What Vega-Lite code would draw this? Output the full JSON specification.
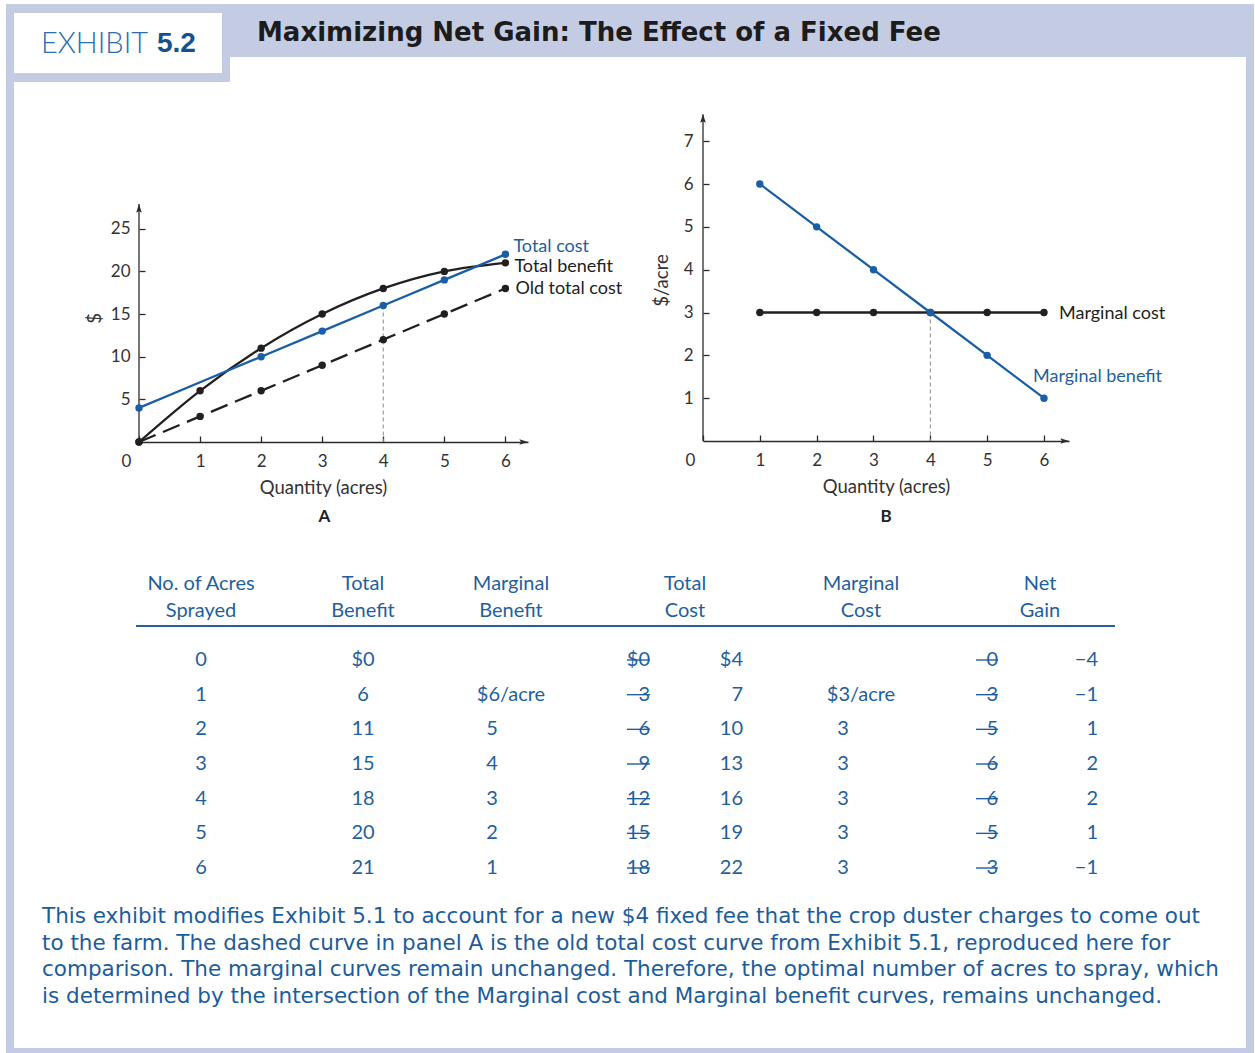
{
"$schema": "https://vega.github.io/schema/vega-lite/v6.json",
"background": "white",
"padding": {"left": 6, "top": 4, "right": 1, "bottom": 0},
"config": {
  "view": {"stroke": null},
  "font": "Lato",
  "axis": {"grid": false, "domainColor": "#2b2b2b", "domainWidth": 1.3, "tickColor": "#2b2b2b", "tickWidth": 1.3, "labelColor": "#333333", "labelFont": "Lato", "labelFontSize": 17, "titleFont": "Lato", "titleFontSize": 18.5, "titleFontWeight": "normal", "titleColor": "#333333", "labelOverlap": false, "labelFlush": false, "labelBound": false},
  "title": {"font": "Lato"}
},
"datasets": {
  "econ": [
    {"q": 0, "tb": 0, "mb": null, "tc": 4, "mc": null, "oldtc": 0, "ng": -4, "oldng": 0},
    {"q": 1, "tb": 6, "mb": 6, "tc": 7, "mc": 3, "oldtc": 3, "ng": -1, "oldng": 3},
    {"q": 2, "tb": 11, "mb": 5, "tc": 10, "mc": 3, "oldtc": 6, "ng": 1, "oldng": 5},
    {"q": 3, "tb": 15, "mb": 4, "tc": 13, "mc": 3, "oldtc": 9, "ng": 2, "oldng": 6},
    {"q": 4, "tb": 18, "mb": 3, "tc": 16, "mc": 3, "oldtc": 12, "ng": 2, "oldng": 6},
    {"q": 5, "tb": 20, "mb": 2, "tc": 19, "mc": 3, "oldtc": 15, "ng": 1, "oldng": 5},
    {"q": 6, "tb": 21, "mb": 1, "tc": 22, "mc": 3, "oldtc": 18, "ng": -1, "oldng": 3}
  ],
  "table": [
    {"q": 0, "acres": "0", "tb": "$0", "mb": "", "oldtc": "$0", "tc": "$4", "mc": "", "oldng": "0", "ng": "−4"},
    {"q": 1, "acres": "1", "tb": "6", "mb": "$6/acre", "oldtc": "3", "tc": "7", "mc": "$3/acre", "oldng": "3", "ng": "−1"},
    {"q": 2, "acres": "2", "tb": "11", "mb": "5", "oldtc": "6", "tc": "10", "mc": "3", "oldng": "5", "ng": "1"},
    {"q": 3, "acres": "3", "tb": "15", "mb": "4", "oldtc": "9", "tc": "13", "mc": "3", "oldng": "6", "ng": "2"},
    {"q": 4, "acres": "4", "tb": "18", "mb": "3", "oldtc": "12", "tc": "16", "mc": "3", "oldng": "6", "ng": "2"},
    {"q": 5, "acres": "5", "tb": "20", "mb": "2", "oldtc": "15", "tc": "19", "mc": "3", "oldng": "5", "ng": "1"},
    {"q": 6, "acres": "6", "tb": "21", "mb": "1", "oldtc": "18", "tc": "22", "mc": "3", "oldng": "3", "ng": "−1"}
  ]
},
"spacing": 0,
"vconcat": [
  {"spacing": 0, "hconcat": [
    {"spacing": 0, "vconcat": [
      {"width": 224, "height": 9, "data": {"values": []}, "mark": "point", "encoding": {}, "view": {"fill": "#c4cce4"}},
      {"spacing": 0, "bounds": "flush", "hconcat": [
        {"width": 8, "height": 60, "data": {"values": []}, "mark": "point", "encoding": {}, "view": {"fill": "#c4cce4"}},
        {"width": 208, "height": 60, "data": {"values": [{}]}, "view": {"fill": "white"},
         "layer": [
           {"mark": {"type": "text", "text": "EXHIBIT", "align": "right", "baseline": "middle", "dx": 30, "dy": 1, "font": "Lato", "fontWeight": 300, "fontSize": 29, "color": "#2d6cb0"}, "encoding": {}},
           {"mark": {"type": "text", "text": "5.2", "align": "left", "baseline": "middle", "dx": 39, "dy": 1, "font": "Liberation Sans", "fontWeight": "bold", "fontSize": 28, "color": "#17508f"}, "encoding": {}}
         ]},
        {"width": 8, "height": 60, "data": {"values": []}, "mark": "point", "encoding": {}, "view": {"fill": "#c4cce4"}}
      ]},
      {"width": 224, "height": 9, "data": {"values": []}, "mark": "point", "encoding": {}, "view": {"fill": "#c4cce4"}}
    ]},
    {"spacing": 0, "vconcat": [
      {"width": 1024, "height": 53, "data": {"values": [{}]}, "view": {"fill": "#c4cce4"}, "encoding": {},
       "mark": {"type": "text", "text": "Maximizing Net Gain: The Effect of a Fixed Fee", "align": "left", "baseline": "middle", "dx": -485, "dy": 2, "font": "DejaVu Sans", "fontWeight": "bold", "fontSize": 26, "color": "#1c1c1c"}},
      {"spacing": 0, "bounds": "flush", "hconcat": [
        {"width": 1016, "height": 25, "data": {"values": []}, "mark": "point", "encoding": {}},
        {"width": 8, "height": 25, "data": {"values": []}, "mark": "point", "encoding": {}, "view": {"fill": "#c4cce4"}}
      ]}
    ]}
  ]},
  {"spacing": 0, "hconcat": [
    {"width": 8, "height": 966, "data": {"values": []}, "mark": "point", "encoding": {}, "view": {"fill": "#c4cce4"}},
    {"spacing": 0, "vconcat": [
      {"spacing": 0, "bounds": "flush", "hconcat": [
        {"width": 125, "height": 486, "data": {"values": []}, "mark": "point", "encoding": {}},
        {"width": 389, "height": 360, "data": {"name": "econ"},
         "title": {"text": "A", "orient": "bottom", "fontSize": 17, "fontWeight": "bold", "color": "#222222", "offset": 12, "dx": -9},
         "encoding": {"x": {"field": "q", "type": "quantitative", "scale": {"domain": [0, 6.37], "nice": false},
            "axis": {"values": [0, 1, 2, 3, 4, 5, 6], "title": "Quantity (acres)", "titleX": 184, "tickSize": -6, "labelPadding": 17, "titlePadding": 9,
                     "labelOffset": {"condition": {"test": "datum.value === 0", "value": -13}, "value": 0}}}},
         "layer": [
           {"mark": {"type": "line", "interpolate": "monotone", "color": "#231f20", "strokeWidth": 2.3},
            "encoding": {"y": {"field": "tb", "type": "quantitative", "scale": {"domain": [0, 42.2], "nice": false},
               "axis": {"values": [5, 10, 15, 20, 25], "title": "$", "titleY": 236, "domain": false, "tickSize": -6, "labelPadding": 15, "titlePadding": 6}}}},
           {"transform": [{"filter": "datum.q === 0"}], "mark": {"type": "rule", "color": "#2b2b2b", "strokeWidth": 1.3},
            "encoding": {"x": {"datum": 0, "type": "quantitative"}, "y": {"datum": 0, "type": "quantitative", "scale": {"domain": [0, 42.2], "nice": false}}, "y2": {"datum": 27.9}}},
           {"transform": [{"filter": "datum.q === 4"}], "mark": {"type": "rule", "color": "#8c8c8c", "strokeWidth": 1, "strokeDash": [4, 3]},
            "encoding": {"y": {"field": "tc", "type": "quantitative", "scale": {"domain": [0, 42.2], "nice": false}}, "y2": {"datum": 0}}},
           {"mark": {"type": "line", "color": "#231f20", "strokeWidth": 2.3, "strokeDash": [18, 8]},
            "encoding": {"y": {"field": "oldtc", "type": "quantitative", "scale": {"domain": [0, 42.2], "nice": false}}}},
           {"mark": {"type": "point", "filled": true, "opacity": 1, "size": 55, "color": "#231f20"},
            "encoding": {"y": {"field": "oldtc", "type": "quantitative", "scale": {"domain": [0, 42.2], "nice": false}}}},
           {"mark": {"type": "point", "filled": true, "opacity": 1, "size": 55, "color": "#231f20"},
            "encoding": {"y": {"field": "tb", "type": "quantitative", "scale": {"domain": [0, 42.2], "nice": false}}}},
           {"mark": {"type": "line", "color": "#1c5ea5", "strokeWidth": 2.3},
            "encoding": {"y": {"field": "tc", "type": "quantitative", "scale": {"domain": [0, 42.2], "nice": false}}}},
           {"transform": [{"filter": "datum.q !== 1"}], "mark": {"type": "point", "filled": true, "opacity": 1, "size": 55, "color": "#1c5ea5"},
            "encoding": {"y": {"field": "tc", "type": "quantitative", "scale": {"domain": [0, 42.2], "nice": false}}}},
           {"transform": [{"filter": "datum.q === 6"}], "mark": {"type": "text", "text": "Total cost", "align": "left", "baseline": "middle", "dx": 8, "dy": -7, "fontSize": 18, "color": "#1f5f9e"},
            "encoding": {"y": {"field": "tc", "type": "quantitative", "scale": {"domain": [0, 42.2], "nice": false}}}},
           {"transform": [{"filter": "datum.q === 6"}], "mark": {"type": "text", "text": "Total benefit", "align": "left", "baseline": "middle", "dx": 9, "dy": 4, "fontSize": 18, "color": "#222222"},
            "encoding": {"y": {"field": "tb", "type": "quantitative", "scale": {"domain": [0, 42.2], "nice": false}}}},
           {"transform": [{"filter": "datum.q === 6"}], "mark": {"type": "text", "text": "Old total cost", "align": "left", "baseline": "middle", "dx": 10, "dy": 1, "fontSize": 18, "color": "#222222"},
            "encoding": {"y": {"field": "oldtc", "type": "quantitative", "scale": {"domain": [0, 42.2], "nice": false}}}},
           {"transform": [{"filter": "datum.q === 0"}], "mark": {"type": "point", "shape": "M0,0L0.33,1L0,0.8L-0.33,1Z", "size": 300, "filled": true, "opacity": 1, "color": "#2b2b2b", "strokeWidth": 0},
            "encoding": {"x": {"datum": 0, "type": "quantitative"}, "y": {"datum": 27.9, "type": "quantitative", "scale": {"domain": [0, 42.2], "nice": false}}}},
           {"transform": [{"filter": "datum.q === 0"}], "mark": {"type": "point", "shape": "M0,0L-1,-0.33L-0.8,0L-1,0.33Z", "size": 300, "filled": true, "opacity": 1, "color": "#2b2b2b", "strokeWidth": 0},
            "encoding": {"x": {"datum": 6.37, "type": "quantitative"}, "y": {"datum": 0, "type": "quantitative", "scale": {"domain": [0, 42.2], "nice": false}}}}
         ]},
        {"width": 175, "height": 486, "data": {"values": []}, "mark": "point", "encoding": {}},
        {"width": 366, "height": 359, "data": {"name": "econ"},
         "transform": [{"filter": "isValid(datum.mb)"}],
         "title": {"text": "B", "orient": "bottom", "fontSize": 17, "fontWeight": "bold", "color": "#222222", "offset": 13},
         "encoding": {"x": {"field": "q", "type": "quantitative", "scale": {"domain": [0, 6.44], "nice": false},
            "axis": {"values": [0, 1, 2, 3, 4, 5, 6], "title": "Quantity (acres)", "tickSize": -6, "labelPadding": 17, "titlePadding": 9,
                     "labelOffset": {"condition": {"test": "datum.value === 0", "value": -13}, "value": 0}}}},
         "layer": [
           {"mark": {"type": "line", "color": "#231f20", "strokeWidth": 2.3},
            "encoding": {"y": {"field": "mc", "type": "quantitative", "scale": {"domain": [0, 8.382], "nice": false},
               "axis": {"values": [1, 2, 3, 4, 5, 6, 7], "title": "$/acre", "titleY": 198, "domain": false, "tickSize": -6, "labelPadding": 16, "titlePadding": 12}}}},
           {"transform": [{"filter": "datum.q === 1"}], "mark": {"type": "rule", "color": "#2b2b2b", "strokeWidth": 1.3},
            "encoding": {"x": {"datum": 0, "type": "quantitative"}, "y": {"datum": 0, "type": "quantitative", "scale": {"domain": [0, 8.382], "nice": false}}, "y2": {"datum": 7.63}}},
           {"transform": [{"filter": "datum.q === 4"}], "mark": {"type": "rule", "color": "#8c8c8c", "strokeWidth": 1, "strokeDash": [4, 3]},
            "encoding": {"y": {"field": "mc", "type": "quantitative", "scale": {"domain": [0, 8.382], "nice": false}}, "y2": {"datum": 0}}},
           {"mark": {"type": "point", "filled": true, "opacity": 1, "size": 55, "color": "#231f20"},
            "encoding": {"y": {"field": "mc", "type": "quantitative", "scale": {"domain": [0, 8.382], "nice": false}}}},
           {"mark": {"type": "line", "color": "#1c5ea5", "strokeWidth": 2.3},
            "encoding": {"y": {"field": "mb", "type": "quantitative", "scale": {"domain": [0, 8.382], "nice": false}}}},
           {"mark": {"type": "point", "filled": true, "opacity": 1, "size": 55, "color": "#1c5ea5"},
            "encoding": {"y": {"field": "mb", "type": "quantitative", "scale": {"domain": [0, 8.382], "nice": false}}}},
           {"transform": [{"filter": "datum.q === 6"}], "mark": {"type": "text", "text": "Marginal cost", "align": "left", "baseline": "middle", "dx": 15, "dy": 1, "fontSize": 18, "color": "#222222"},
            "encoding": {"y": {"field": "mc", "type": "quantitative", "scale": {"domain": [0, 8.382], "nice": false}}}},
           {"transform": [{"filter": "datum.q === 6"}], "mark": {"type": "text", "text": "Marginal benefit", "align": "left", "baseline": "middle", "dx": -11, "dy": -21, "fontSize": 18, "color": "#1f5f9e"},
            "encoding": {"y": {"field": "mb", "type": "quantitative", "scale": {"domain": [0, 8.382], "nice": false}}}},
           {"transform": [{"filter": "datum.q === 1"}], "mark": {"type": "point", "shape": "M0,0L0.33,1L0,0.8L-0.33,1Z", "size": 300, "filled": true, "opacity": 1, "color": "#2b2b2b", "strokeWidth": 0},
            "encoding": {"x": {"datum": 0, "type": "quantitative"}, "y": {"datum": 7.63, "type": "quantitative", "scale": {"domain": [0, 8.382], "nice": false}}}},
           {"transform": [{"filter": "datum.q === 1"}], "mark": {"type": "point", "shape": "M0,0L-1,-0.33L-0.8,0L-1,0.33Z", "size": 300, "filled": true, "opacity": 1, "color": "#2b2b2b", "strokeWidth": 0},
            "encoding": {"x": {"datum": 6.44, "type": "quantitative"}, "y": {"datum": 0, "type": "quantitative", "scale": {"domain": [0, 8.382], "nice": false}}}}
         ]},
        {"width": 177, "height": 486, "data": {"values": []}, "mark": "point", "encoding": {}}
      ]},
      {"spacing": 0, "bounds": "flush", "hconcat": [
        {"width": 122, "height": 57, "data": {"values": []}, "mark": "point", "encoding": {}},
        {"width": 130, "height": 57, "data": {"values": [{}]}, "encoding": {}, "mark": {"type": "text", "text": ["No. of Acres", "Sprayed"], "lineHeight": 27, "baseline": "middle", "dy": -12.5, "fontSize": 20, "color": "#1f5f9e"}},
        {"width": 194, "height": 57, "data": {"values": [{}]}, "encoding": {}, "mark": {"type": "text", "text": ["Total", "Benefit"], "lineHeight": 27, "baseline": "middle", "dy": -12.5, "fontSize": 20, "color": "#1f5f9e"}},
        {"width": 102, "height": 57, "data": {"values": [{}]}, "encoding": {}, "mark": {"type": "text", "text": ["Marginal", "Benefit"], "lineHeight": 27, "baseline": "middle", "dy": -12.5, "fontSize": 20, "color": "#1f5f9e"}},
        {"width": 246, "height": 57, "data": {"values": [{}]}, "encoding": {}, "mark": {"type": "text", "text": ["Total", "Cost"], "lineHeight": 27, "baseline": "middle", "dy": -12.5, "fontSize": 20, "color": "#1f5f9e"}},
        {"width": 106, "height": 57, "data": {"values": [{}]}, "encoding": {}, "mark": {"type": "text", "text": ["Marginal", "Cost"], "lineHeight": 27, "baseline": "middle", "dy": -12.5, "fontSize": 20, "color": "#1f5f9e"}},
        {"width": 51, "height": 57, "data": {"values": []}, "mark": "point", "encoding": {}},
        {"width": 150, "height": 57, "data": {"values": [{}]}, "encoding": {}, "mark": {"type": "text", "text": ["Net", "Gain"], "lineHeight": 27, "baseline": "middle", "dy": -12.5, "fontSize": 20, "color": "#1f5f9e"}},
        {"width": 131, "height": 57, "data": {"values": []}, "mark": "point", "encoding": {}}
      ]},
      {"spacing": 0, "bounds": "flush", "hconcat": [
        {"width": 122, "height": 2, "data": {"values": []}, "mark": "point", "encoding": {}},
        {"width": 979, "height": 2, "data": {"values": []}, "mark": "point", "encoding": {}, "view": {"fill": "#2a5f9a"}},
        {"width": 131, "height": 2, "data": {"values": []}, "mark": "point", "encoding": {}}
      ]},
      {"spacing": 0, "bounds": "flush", "hconcat": [
        {"width": 122, "height": 263, "data": {"values": []}, "mark": "point", "encoding": {}},
        {"width": 130, "height": 263, "data": {"name": "table"}, "mark": {"type": "text", "baseline": "middle", "dy": 1, "fontSize": 20, "color": "#1f5f9e"},
         "encoding": {"y": {"field": "q", "type": "quantitative", "scale": {"domain": [-0.923, 6.663], "reverse": true, "nice": false, "zero": false}, "axis": null}, "text": {"field": "acres", "type": "nominal"}}},
        {"width": 194, "height": 263, "data": {"name": "table"}, "mark": {"type": "text", "baseline": "middle", "dy": 1, "fontSize": 20, "color": "#1f5f9e"},
         "encoding": {"y": {"field": "q", "type": "quantitative", "scale": {"domain": [-0.923, 6.663], "reverse": true, "nice": false, "zero": false}, "axis": null}, "text": {"field": "tb", "type": "nominal"}}},
        {"width": 64, "height": 263, "data": {"name": "table"},
         "layer": [
           {"transform": [{"filter": "datum.q !== 1"}], "mark": {"type": "text", "baseline": "middle", "dy": 1, "fontSize": 20, "color": "#1f5f9e"},
            "encoding": {"y": {"field": "q", "type": "quantitative", "scale": {"domain": [-0.923, 6.663], "reverse": true, "nice": false, "zero": false}, "axis": null}, "text": {"field": "mb", "type": "nominal"}}},
           {"transform": [{"filter": "datum.q === 1"}], "mark": {"type": "text", "baseline": "middle", "dy": 1, "dx": 19, "fontSize": 20, "color": "#1f5f9e"},
            "encoding": {"y": {"field": "q", "type": "quantitative", "scale": {"domain": [-0.923, 6.663], "reverse": true, "nice": false, "zero": false}, "axis": null}, "text": {"field": "mb", "type": "nominal"}}}
         ]},
        {"width": 126, "height": 263, "data": {"name": "table"},
         "layer": [
           {"mark": {"type": "text", "align": "right", "baseline": "middle", "dy": 1, "fontSize": 20, "color": "#1f5f9e"},
            "encoding": {"x": {"value": "width"}, "y": {"field": "q", "type": "quantitative", "scale": {"domain": [-0.923, 6.663], "reverse": true, "nice": false, "zero": false}, "axis": null}, "text": {"field": "oldtc", "type": "nominal"}}},
           {"mark": {"type": "tick", "orient": "horizontal", "size": 23, "thickness": 1.4, "xOffset": -11.5, "yOffset": 1, "color": "#1f5f9e", "opacity": 1},
            "encoding": {"x": {"value": "width"}, "y": {"field": "q", "type": "quantitative", "scale": {"domain": [-0.923, 6.663], "reverse": true, "nice": false, "zero": false}, "axis": null}}}
         ]},
        {"width": 93, "height": 263, "data": {"name": "table"}, "mark": {"type": "text", "align": "right", "baseline": "middle", "dy": 1, "fontSize": 20, "color": "#1f5f9e"},
         "encoding": {"x": {"value": "width"}, "y": {"field": "q", "type": "quantitative", "scale": {"domain": [-0.923, 6.663], "reverse": true, "nice": false, "zero": false}, "axis": null}, "text": {"field": "tc", "type": "nominal"}}},
        {"width": 200, "height": 263, "data": {"name": "table"},
         "layer": [
           {"transform": [{"filter": "datum.q !== 1"}], "mark": {"type": "text", "baseline": "middle", "dy": 1, "fontSize": 20, "color": "#1f5f9e"},
            "encoding": {"y": {"field": "q", "type": "quantitative", "scale": {"domain": [-0.923, 6.663], "reverse": true, "nice": false, "zero": false}, "axis": null}, "text": {"field": "mc", "type": "nominal"}}},
           {"transform": [{"filter": "datum.q === 1"}], "mark": {"type": "text", "baseline": "middle", "dy": 1, "dx": 18, "fontSize": 20, "color": "#1f5f9e"},
            "encoding": {"y": {"field": "q", "type": "quantitative", "scale": {"domain": [-0.923, 6.663], "reverse": true, "nice": false, "zero": false}, "axis": null}, "text": {"field": "mc", "type": "nominal"}}}
         ]},
        {"width": 55, "height": 263, "data": {"name": "table"},
         "layer": [
           {"mark": {"type": "text", "align": "right", "baseline": "middle", "dy": 1, "fontSize": 20, "color": "#1f5f9e"},
            "encoding": {"x": {"value": "width"}, "y": {"field": "q", "type": "quantitative", "scale": {"domain": [-0.923, 6.663], "reverse": true, "nice": false, "zero": false}, "axis": null}, "text": {"field": "oldng", "type": "nominal"}}},
           {"mark": {"type": "tick", "orient": "horizontal", "size": 22, "thickness": 1.4, "xOffset": -11, "yOffset": 1, "color": "#1f5f9e", "opacity": 1},
            "encoding": {"x": {"value": "width"}, "y": {"field": "q", "type": "quantitative", "scale": {"domain": [-0.923, 6.663], "reverse": true, "nice": false, "zero": false}, "axis": null}}}
         ]},
        {"width": 100, "height": 263, "data": {"name": "table"}, "mark": {"type": "text", "align": "right", "baseline": "middle", "dy": 1, "fontSize": 20, "color": "#1f5f9e"},
         "encoding": {"x": {"value": "width"}, "y": {"field": "q", "type": "quantitative", "scale": {"domain": [-0.923, 6.663], "reverse": true, "nice": false, "zero": false}, "axis": null}, "text": {"field": "ng", "type": "nominal"}}},
        {"width": 148, "height": 263, "data": {"values": []}, "mark": "point", "encoding": {}}
      ]},
      {"width": 1232, "height": 158, "data": {"values": [{}]}, "encoding": {},
       "mark": {"type": "text", "text": [
         "This exhibit modifies Exhibit 5.1 to account for a new $4 fixed fee that the crop duster charges to come out",
         "to the farm. The dashed curve in panel A is the old total cost curve from Exhibit 5.1, reproduced here for",
         "comparison. The marginal curves remain unchanged. Therefore, the optimal number of acres to spray, which",
         "is determined by the intersection of the Marginal cost and Marginal benefit curves, remains unchanged."],
         "font": "DejaVu Sans", "fontSize": 21.5, "lineHeight": 26.7, "align": "left", "baseline": "middle", "dx": -588, "dy": -52, "color": "#1c5c9c"}}
    ]},
    {"width": 8, "height": 966, "data": {"values": []}, "mark": "point", "encoding": {}, "view": {"fill": "#c4cce4"}}
  ]},
  {"width": 1248, "height": 5, "data": {"values": []}, "mark": "point", "encoding": {}, "view": {"fill": "#c4cce4"}}
]
}
